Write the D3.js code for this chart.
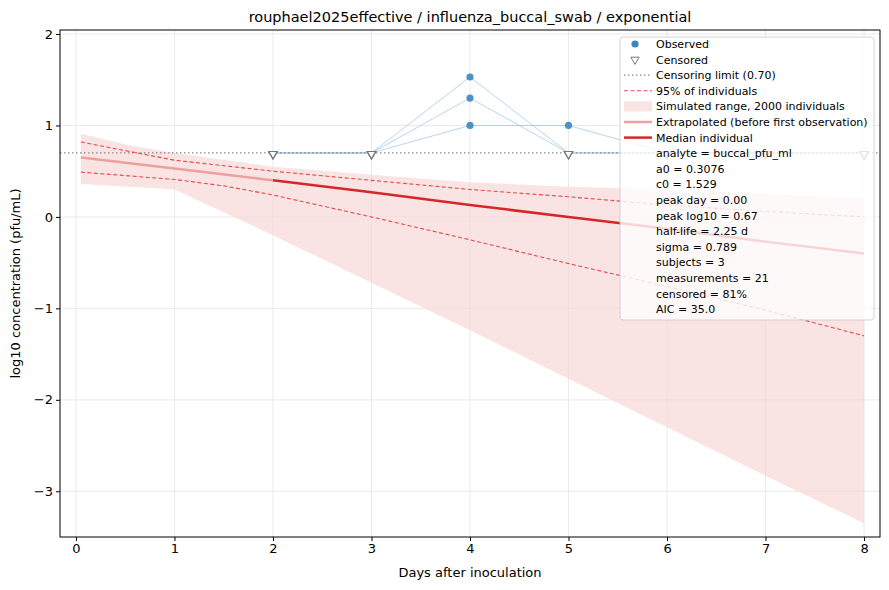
<!DOCTYPE html>
<html><head><meta charset="utf-8">
<script src="https://cdn.jsdelivr.net/npm/d3@7"></script>
<style>body{margin:0;background:#fff}text{font-family:"DejaVu Sans",sans-serif}</style>
</head><body><svg id="chart"></svg>
<script>
const svgWidth = 889, svgHeight = 590;
const padding = {top: 30, left: 60, right: 9, bottom: 53};

const days = [2, 3, 4, 5, 6, 7, 8];
const subjects = [
  [0.7, 0.7, 1.53, 0.7, 0.7, 0.7, 0.7],
  [0.7, 0.7, 1.30, 0.7, 0.7, 0.7, 0.7],
  [0.7, 0.7, 1.00, 1.00, 0.7, 0.7, 0.7]
];
const censored = [
  [true, true, false, true, true, true, true],
  [true, true, false, true, true, true, true],
  [true, true, false, false, true, true, true]
];
const censorLimit = 0.7;
const extrapDays = [0.05, 1, 2];
const extrapVals = [0.65, 0.53, 0.40];
const medianDays = [2, 3, 4, 5, 6, 7, 8];
const medianVals = [0.40, 0.27, 0.13, 0.0, -0.13, -0.27, -0.40];
const pctDays = [0.05, 1, 1.5, 2, 3, 4, 5, 6, 7, 8];
const upperVals = [0.82, 0.62, 0.56, 0.50, 0.40, 0.30, 0.22, 0.13, 0.06, 0.0];
const lowerVals = [0.49, 0.41, 0.34, 0.24, 0.0, -0.25, -0.51, -0.76, -1.02, -1.30];
const bandDays = [0.05, 0.55, 1, 2, 3, 4, 5, 6, 7, 8];
const bandHigh = [0.91, 0.78, 0.70, 0.55, 0.46, 0.38, 0.33, 0.30, 0.25, 0.20];
const bandLow = [0.36, 0.33, 0.30, -0.20, -0.72, -1.24, -1.77, -2.30, -2.83, -3.35];
const legendStats = ["analyte = buccal_pfu_ml", "a0 = 0.3076", "c0 = 1.529", "peak day = 0.00",
  "peak log10 = 0.67", "half-life = 2.25 d", "sigma = 0.789", "subjects = 3",
  "measurements = 21", "censored = 81%", "AIC = 35.0"];

const svg = d3.select("#chart").attr("width", svgWidth).attr("height", svgHeight);
const x = d3.scaleLinear().domain([-0.162, 8.162]).range([padding.left, svgWidth - padding.right]);
const y = d3.scaleLinear().domain([-3.5, 2.044]).range([svgHeight - padding.bottom, padding.top]);
const x0 = padding.left, x1 = svgWidth - padding.right, y0 = svgHeight - padding.bottom, y1 = padding.top;

// grid
const xt = d3.range(0, 9), yt = [-3, -2, -1, 0, 1, 2];
svg.append("g").selectAll("line").data(xt).join("line")
  .attr("x1", d => x(d)).attr("x2", d => x(d)).attr("y1", y0).attr("y2", y1)
  .attr("stroke", "#e5e5e5").attr("stroke-width", 0.8);
svg.append("g").selectAll("line").data(yt).join("line")
  .attr("y1", d => y(d)).attr("y2", d => y(d)).attr("x1", x0).attr("x2", x1)
  .attr("stroke", "#e5e5e5").attr("stroke-width", 0.8);

// band
const band = bandDays.map((d, i) => ({d, hi: bandHigh[i], lo: bandLow[i]}));
svg.append("path").attr("d", d3.area().x(d => x(d.d)).y0(d => y(d.lo)).y1(d => y(d.hi))(band))
  .attr("fill", "#f7d4d4").attr("opacity", 0.65);

const line = d3.line().x(d => x(d[0])).y(d => y(d[1]));
// subjects
subjects.forEach(s => {
  svg.append("path").attr("d", line(days.map((d, i) => [d, s[i]])))
    .attr("fill", "none").attr("stroke", "#9ec5e2").attr("stroke-width", 0.9).attr("opacity", 0.8);
});
// censor limit
svg.append("line").attr("x1", x0).attr("x2", x1).attr("y1", y(censorLimit)).attr("y2", y(censorLimit))
  .attr("stroke", "#888").attr("stroke-width", 1.3).attr("stroke-dasharray", "1.5,2.5");
// percentiles
[upperVals, lowerVals].forEach(v => {
  svg.append("path").attr("d", line(pctDays.map((d, i) => [d, v[i]])))
    .attr("fill", "none").attr("stroke", "#e34a4a").attr("stroke-width", 1.1).attr("stroke-dasharray", "4,2.5");
});
svg.append("path").attr("d", d3.line().curve(d3.curveMonotoneX).x(d => x(d[0])).y(d => y(d[1]))(extrapDays.map((d, i) => [d, extrapVals[i]])))
  .attr("fill", "none").attr("stroke", "#eea0a0").attr("stroke-width", 2.5);
svg.append("path").attr("d", line(medianDays.map((d, i) => [d, medianVals[i]])))
  .attr("fill", "none").attr("stroke", "#d62728").attr("stroke-width", 2.5);

// points
const tri = d3.symbol().type(d3.symbolTriangle).size(30);
subjects.forEach((s, k) => s.forEach((v, i) => {
  if (censored[k][i]) {
    svg.append("path").attr("d", tri()).attr("transform", `translate(${x(days[i])},${y(v) + 1}) rotate(180)`)
      .attr("fill", "white").attr("stroke", "#777").attr("stroke-width", 1.2);
  } else {
    svg.append("circle").attr("cx", x(days[i])).attr("cy", y(v)).attr("r", 3.6).attr("fill", "#3a87c0").attr("opacity", 0.9);
  }
}));

// frame & axes
svg.append("rect").attr("x", x0).attr("y", y1).attr("width", x1 - x0).attr("height", y0 - y1)
  .attr("fill", "none").attr("stroke", "#000").attr("stroke-width", 1);
svg.append("g").attr("transform", `translate(0,${y0})`).call(d3.axisBottom(x).tickValues(xt).tickSize(4).tickFormat(d3.format("d")))
  .call(g => g.select(".domain").remove()).selectAll("text").attr("font-size", 13).attr("font-family", "DejaVu Sans");
svg.append("g").attr("transform", `translate(${x0},0)`).call(d3.axisLeft(y).tickValues(yt).tickSize(4).tickFormat(d => d < 0 ? "\u2212" + (-d) : d))
  .call(g => g.select(".domain").remove()).selectAll("text").attr("font-size", 13).attr("font-family", "DejaVu Sans");

svg.append("text").attr("x", (x0 + x1) / 2).attr("y", 22).attr("text-anchor", "middle").attr("font-size", 14.5)
  .text("rouphael2025effective / influenza_buccal_swab / exponential");
svg.append("text").attr("x", (x0 + x1) / 2).attr("y", 577).attr("text-anchor", "middle").attr("font-size", 13)
  .text("Days after inoculation");
svg.append("text").attr("transform", `translate(20,${(y0 + y1) / 2}) rotate(-90)`).attr("text-anchor", "middle").attr("font-size", 13)
  .text("log10 concentration (pfu/mL)");

// legend
const lg = svg.append("g").attr("transform", "translate(620,37)");
lg.append("rect").attr("width", 254).attr("height", 283).attr("rx", 3).attr("fill", "white").attr("opacity", 0.8)
  .attr("stroke", "#ccc");
const step = 15.6, ty = i => 7 + i * step;
const labels = ["Observed", "Censored", "Censoring limit (0.70)", "95% of individuals", "Simulated range, 2000 individuals",
  "Extrapolated (before first observation)", "Median individual"].concat(legendStats);
lg.selectAll("text.l").data(labels).join("text").attr("x", 36).attr("y", (d, i) => ty(i) + 4)
  .attr("font-size", 11).text(d => d);
lg.append("circle").attr("cx", 15).attr("cy", ty(0)).attr("r", 3.6).attr("fill", "#3a87c0");
lg.append("path").attr("d", tri()).attr("transform", `translate(15,${ty(1)}) rotate(180)`).attr("fill", "white").attr("stroke", "#777");
lg.append("line").attr("x1", 4).attr("x2", 32).attr("y1", ty(2)).attr("y2", ty(2)).attr("stroke", "#888").attr("stroke-width", 1.3).attr("stroke-dasharray", "1.5,2.5");
lg.append("line").attr("x1", 4).attr("x2", 32).attr("y1", ty(3)).attr("y2", ty(3)).attr("stroke", "#e34a4a").attr("stroke-width", 1.1).attr("stroke-dasharray", "4,2.5");
lg.append("rect").attr("x", 4).attr("y", ty(4) - 5).attr("width", 28).attr("height", 10).attr("fill", "#f7d4d4").attr("opacity", 0.65);
lg.append("line").attr("x1", 4).attr("x2", 32).attr("y1", ty(5)).attr("y2", ty(5)).attr("stroke", "#eea0a0").attr("stroke-width", 2.5);
lg.append("line").attr("x1", 4).attr("x2", 32).attr("y1", ty(6)).attr("y2", ty(6)).attr("stroke", "#d62728").attr("stroke-width", 2.5);
</script></body></html>
